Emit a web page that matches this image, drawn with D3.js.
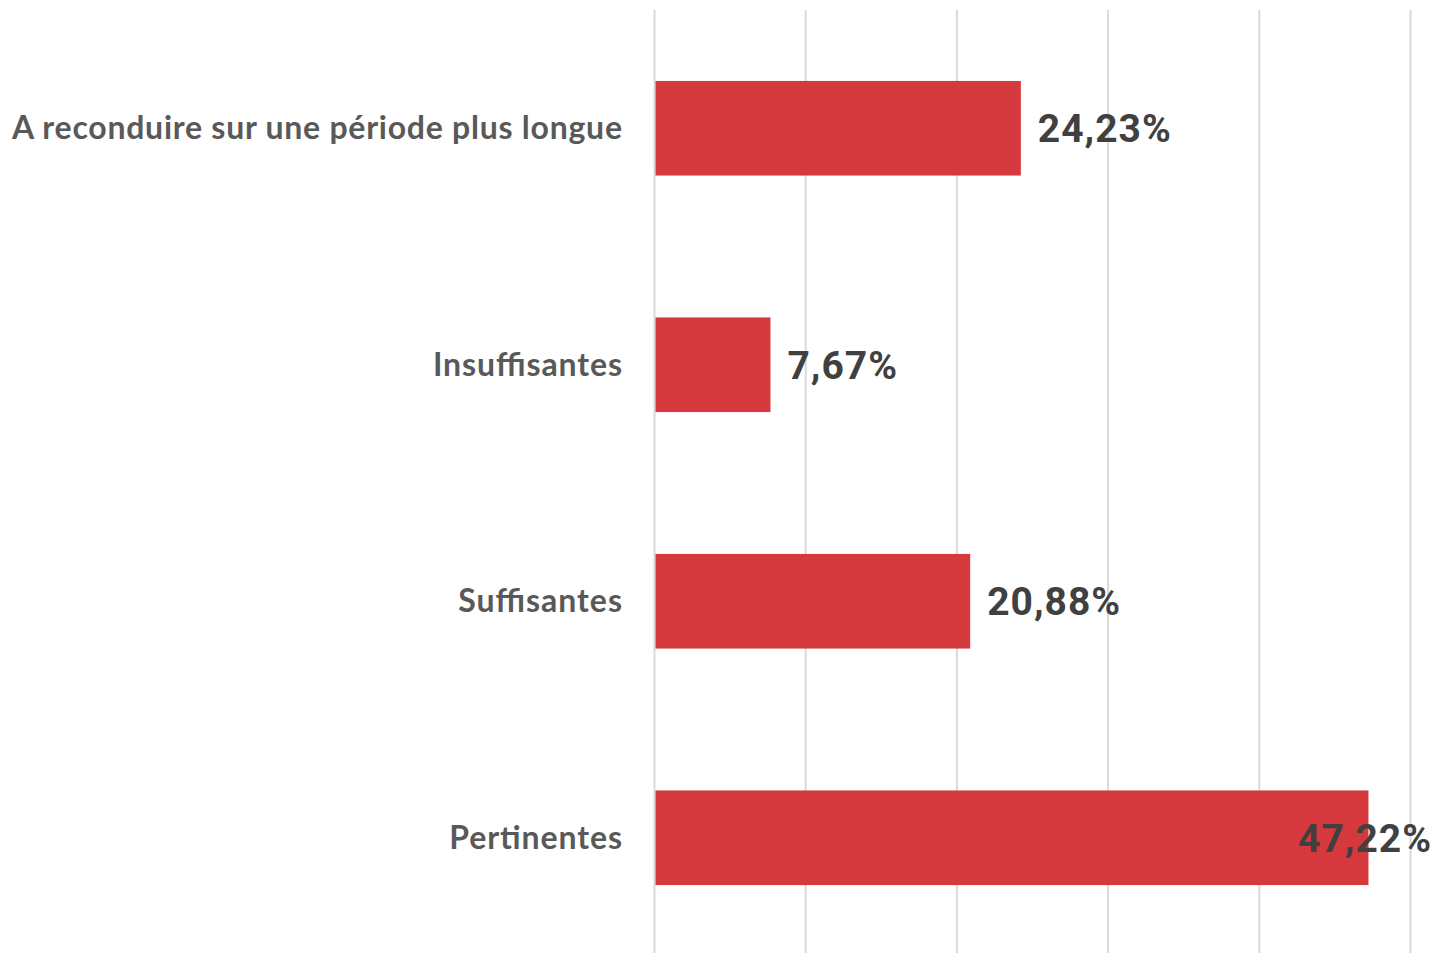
<!DOCTYPE html>
<html><head><meta charset="utf-8">
<script src="https://cdn.jsdelivr.net/npm/d3@7"></script>
<style>body{margin:0;background:#fff;}svg{display:block;}</style>
</head><body>
<svg id="chart" width="1438" height="953"></svg>
<script>
const categories = ["A reconduire sur une période plus longue", "Insuffisantes", "Suffisantes", "Pertinentes"];
const values = [24.23, 7.67, 20.88, 47.22];
const valueLabels = ["24,23%", "7,67%", "20,88%", "47,22%"];
const xTicks = [0, 10, 20, 30, 40, 50];

const W = 1438, H = 953;
const svg = d3.select("#chart");
const x = d3.scaleLinear().domain([0, 50]).range([654.5, 1410.5]);
const y = d3.scaleBand().domain(categories).range([10, 956]).paddingInner(0.6).paddingOuter(0.3);

svg.append("g").selectAll("line").data(xTicks).join("line")
  .attr("x1", d => x(d)).attr("x2", d => x(d))
  .attr("y1", 10).attr("y2", H)
  .attr("stroke", "#d9d9d9").attr("stroke-width", 2);

svg.append("g").selectAll("rect").data(values).join("rect")
  .attr("x", x(0)+1)
  .attr("y", (d,i) => y(categories[i]))
  .attr("width", d => x(d) - x(0) - 1)
  .attr("height", y.bandwidth())
  .attr("fill", "#d5393e");

const cl = svg.append("g").selectAll("text").data(categories).join("text")
  .attr("x", 622)
  .attr("y", d => y(d) + y.bandwidth()/2 + 11)
  .attr("text-anchor", "end")
  .attr("font-family", "Lato, 'Open Sans', sans-serif")
  .attr("font-weight", 700)
  .attr("font-size", 32)
  .attr("fill", "#595959")
  .text(d => d);
cl.each(function(){
  const w = this.getComputedTextLength();
  d3.select(this).attr("textLength", w * 1.05).attr("lengthAdjust", "spacing");
});

const vl = svg.append("g").selectAll("text").data(values).join("text")
  .attr("y", (d,i) => y(categories[i]) + y.bandwidth()/2 + 14)
  .attr("font-family", "Roboto, 'Open Sans', sans-serif")
  .attr("font-weight", 700)
  .attr("font-size", 39)
  .attr("letter-spacing", 1)
  .attr("fill", "#404040")
  .text((d,i) => valueLabels[i]);
vl.each(function(d){
  const w = this.getComputedTextLength();
  const xs = Math.min(x(d) + 17, 1432 - w);
  d3.select(this).attr("x", xs);
});
</script>
</body></html>
